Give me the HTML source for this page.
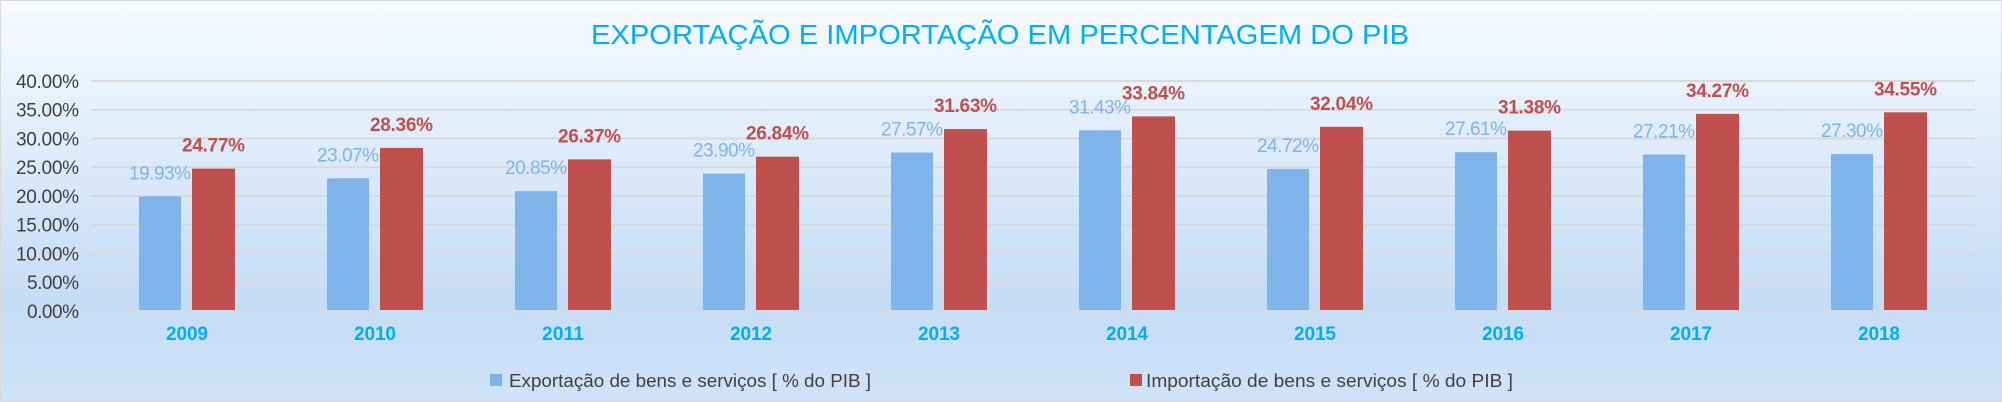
<!DOCTYPE html>
<html><head><meta charset="utf-8"><style>
html,body{margin:0;padding:0;}
body{width:2002px;height:402px;overflow:hidden;}
svg{display:block;font-family:"Liberation Sans Narrow","Liberation Sans",sans-serif;}
</style></head><body>
<svg width="2002" height="402" viewBox="0 0 2002 402" xmlns="http://www.w3.org/2000/svg">
<defs><linearGradient id="bg" x1="0" y1="0" x2="0" y2="1">
<stop offset="0" stop-color="#f7faff"/><stop offset="0.75" stop-color="#c4dcf5"/><stop offset="1" stop-color="#d0e3f7"/></linearGradient></defs>
<rect x="0.5" y="0.5" width="2001" height="401" fill="url(#bg)" stroke="#d9d9d9"/>
<text x="1000" y="44" text-anchor="middle" font-family="Liberation Sans, sans-serif" font-size="28" fill="#00b0f0" textLength="818" lengthAdjust="spacingAndGlyphs">EXPORTAÇÃO E IMPORTAÇÃO EM PERCENTAGEM DO PIB</text>
<g stroke="#d9d9d9" stroke-width="2">
<line x1="91" x2="1975" y1="81" y2="81"/><line x1="91" x2="1975" y1="109.75" y2="109.75"/><line x1="91" x2="1975" y1="138.5" y2="138.5"/><line x1="91" x2="1975" y1="167.25" y2="167.25"/><line x1="91" x2="1975" y1="196" y2="196"/><line x1="91" x2="1975" y1="224.75" y2="224.75"/><line x1="91" x2="1975" y1="253.5" y2="253.5"/><line x1="91" x2="1975" y1="282.25" y2="282.25"/><line x1="91" x2="1975" y1="311" y2="311"/>
</g>
<g fill="#404040" font-size="19" text-anchor="end" lengthAdjust="spacingAndGlyphs">
<text x="79" y="88" textLength="63">40.00%</text><text x="79" y="116.5" textLength="63">35.00%</text><text x="79" y="145.5" textLength="63">30.00%</text><text x="79" y="174" textLength="63">25.00%</text><text x="79" y="203" textLength="63">20.00%</text><text x="79" y="231.5" textLength="63">15.00%</text><text x="79" y="260.5" textLength="63">10.00%</text><text x="79" y="289" textLength="52">5.00%</text><text x="79" y="318" textLength="52">0.00%</text>
</g>
<g fill="#7eb4ea">
<rect x="139" y="196.4" width="42" height="113.6"/><rect x="327" y="178.3" width="42" height="131.7"/><rect x="515" y="191.1" width="42" height="118.9"/><rect x="703" y="173.6" width="42" height="136.4"/><rect x="891" y="152.5" width="42" height="157.5"/><rect x="1079" y="130.3" width="42" height="179.7"/><rect x="1267" y="168.9" width="42" height="141.1"/><rect x="1455" y="152.2" width="42" height="157.8"/><rect x="1643" y="154.5" width="42" height="155.5"/><rect x="1831" y="154" width="42" height="156"/>
</g>
<g fill="#c0504d">
<rect x="192" y="168.6" width="43" height="141.4"/><rect x="380" y="147.9" width="43" height="162.1"/><rect x="568" y="159.4" width="43" height="150.6"/><rect x="756" y="156.7" width="43" height="153.3"/><rect x="944" y="129.1" width="43" height="180.9"/><rect x="1132" y="116.4" width="43" height="193.6"/><rect x="1320" y="126.8" width="43" height="183.2"/><rect x="1508" y="130.6" width="43" height="179.4"/><rect x="1696" y="113.9" width="43" height="196.1"/><rect x="1884" y="112.3" width="43" height="197.7"/>
</g>
<g fill="#7eb4ea" font-size="19" text-anchor="middle" lengthAdjust="spacingAndGlyphs">
<text x="160" y="179.4" textLength="62">19.93%</text><text x="348" y="161.3" textLength="62">23.07%</text><text x="536" y="174.1" textLength="62">20.85%</text><text x="724" y="156.6" textLength="62">23.90%</text><text x="912" y="135.5" textLength="62">27.57%</text><text x="1100" y="113.3" textLength="62">31.43%</text><text x="1288" y="151.9" textLength="62">24.72%</text><text x="1476" y="135.2" textLength="62">27.61%</text><text x="1664" y="137.5" textLength="62">27.21%</text><text x="1852" y="137" textLength="62">27.30%</text>
</g>
<g fill="#c0504d" font-size="19" font-weight="bold" text-anchor="middle" lengthAdjust="spacingAndGlyphs">
<text x="213.5" y="151.6" textLength="63">24.77%</text><text x="401.5" y="130.9" textLength="63">28.36%</text><text x="589.5" y="142.4" textLength="63">26.37%</text><text x="777.5" y="139.7" textLength="63">26.84%</text><text x="965.5" y="112.1" textLength="63">31.63%</text><text x="1153.5" y="99.4" textLength="63">33.84%</text><text x="1341.5" y="109.8" textLength="63">32.04%</text><text x="1529.5" y="113.6" textLength="63">31.38%</text><text x="1717.5" y="96.9" textLength="63">34.27%</text><text x="1905.5" y="95.3" textLength="63">34.55%</text>
</g>
<g fill="#00b0f0" font-size="19" font-weight="bold" text-anchor="middle" lengthAdjust="spacingAndGlyphs">
<text x="187" y="340" textLength="42">2009</text><text x="375" y="340" textLength="42">2010</text><text x="563" y="340" textLength="42">2011</text><text x="751" y="340" textLength="42">2012</text><text x="939" y="340" textLength="42">2013</text><text x="1127" y="340" textLength="42">2014</text><text x="1315" y="340" textLength="42">2015</text><text x="1503" y="340" textLength="42">2016</text><text x="1691" y="340" textLength="42">2017</text><text x="1879" y="340" textLength="42">2018</text>
</g>
<rect x="490" y="374" width="12" height="12" fill="#7eb4ea"/>
<text x="509" y="387" font-size="18" fill="#404040" textLength="362" lengthAdjust="spacingAndGlyphs">Exportação de bens e serviços [ % do PIB ]</text>
<rect x="1130" y="374" width="12" height="12" fill="#c0504d"/>
<text x="1146" y="387" font-size="18" fill="#404040" textLength="367" lengthAdjust="spacingAndGlyphs">Importação de bens e serviços [ % do PIB ]</text>
</svg>
</body></html>
